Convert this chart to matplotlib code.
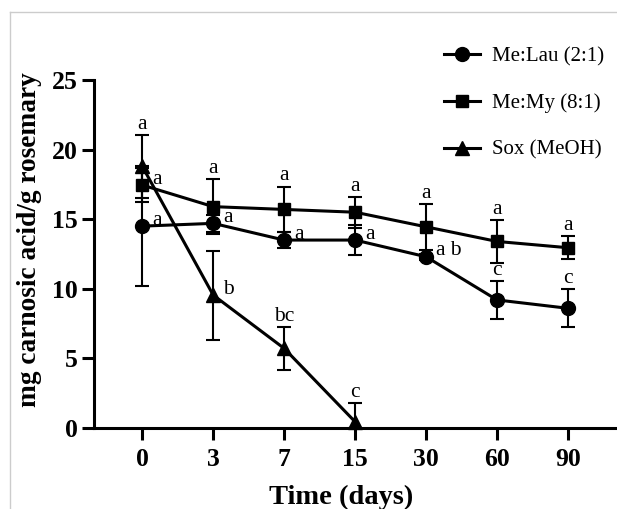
import matplotlib
matplotlib.use("Agg")
import matplotlib.pyplot as plt
from matplotlib.lines import Line2D

# storage time (days), plotted as evenly spaced categories
days = ["0", "3", "7", "15", "30", "60", "90"]

lau_mean = [14.5, 14.7, 13.5, 13.5, 12.3, 9.2, 8.6]
lau_sd = [4.3, 0.6, 0.55, 1.1, 0.2, 1.35, 1.37]
lau_letters = ["a", "a", "a", "a", "a b", "c", "c"]

my_mean = [17.45, 15.9, 15.7, 15.5, 14.45, 13.4, 12.95]
my_sd = [1.2, 1.95, 1.63, 1.1, 1.63, 1.52, 0.83]
my_letters = ["a", "a", "a", "a", "a", "a", "a"]

sox_mean = [18.8, 9.55, 5.72, 0.45]
sox_sd = [2.25, 3.2, 1.52, 1.32]
sox_letters = ["a", "b", "bc", "c"]

plt.rcParams['font.family'] = ['Liberation Serif', 'DejaVu Serif']

fig = plt.figure(figsize=(6.17, 5.09), dpi=100)
ax = fig.add_axes([0.1523, 0.159, 0.8477, 0.684])

x = list(range(len(days)))
common = dict(color='black', lw=2.2, elinewidth=1.5, capsize=5, capthick=1.5)
ax.errorbar(x, lau_mean, yerr=lau_sd, marker='o', ms=10, **common)
ax.errorbar(x, my_mean, yerr=my_sd, marker='s', ms=9, **common)
sox_low = [min(s, m) for s, m in zip(sox_sd, sox_mean)]
ax.errorbar(x[:len(sox_mean)], sox_mean, yerr=[sox_low, sox_sd], marker='^', ms=10,
            clip_on=False, **common)

# letters: "up" = above the upper cap, "right" = beside the marker
lau_side = ["right", "right", "right", "right", "right", "up", "up"]
my_side = ["right", "up", "up", "up", "up", "up", "up"]
sox_side = ["up", "right", "up", "up"]


def put_letters(means, sds, letters, sides):
    for i, (m, s, t, side) in enumerate(zip(means, sds, letters, sides)):
        if side == "up":
            ax.annotate(t, xy=(i, m + s), xytext=(0, 1), textcoords='offset points',
                        ha='center', va='bottom', fontsize=15.5)
        else:
            ax.annotate(t, xy=(i, m), xytext=(7, 1), textcoords='offset points',
                        ha='left', va='baseline', fontsize=15.5)


put_letters(lau_mean, lau_sd, lau_letters, lau_side)
put_letters(my_mean, my_sd, my_letters, my_side)
put_letters(sox_mean, sox_sd, sox_letters, sox_side)

ax.set_xlim(-0.68, 6.69)
ax.set_ylim(0, 25)
ax.set_xticks(x)
ax.set_xticklabels(days)
ax.set_yticks([0, 5, 10, 15, 20, 25])

for side in ['top', 'right']:
    ax.spines[side].set_visible(False)
for side in ['left', 'bottom']:
    ax.spines[side].set_linewidth(2.2)
ax.tick_params(axis='both', direction='out', width=2.2, length=8.6, labelsize=18.5)
ax.tick_params(axis='y', pad=3)
ax.tick_params(axis='x', pad=6)
for lab in ax.get_xticklabels() + ax.get_yticklabels():
    lab.set_fontweight('bold')

ax.set_xlabel('Time (days)', fontsize=20.5, fontweight='bold')
ax.xaxis.set_label_coords(0.472, -0.163)
ax.set_ylabel('mg carnosic acid/g rosemary', fontsize=19.7, fontweight='bold')
ax.yaxis.set_label_coords(-0.099, 0.54)

leg_handles = [Line2D([], [], color='black', lw=2.2, marker=mk, ms=ms)
               for mk, ms in [('o', 10), ('s', 9), ('^', 10)]]
ax.legend(leg_handles, ['Me:Lau (2:1)', 'Me:My (8:1)', 'Sox (MeOH)'],
          loc='upper left', bbox_to_anchor=(0.72, 0.908), bbox_transform=fig.transFigure,
          borderpad=0, borderaxespad=0, frameon=False, fontsize=15,
          handlelength=1.7, handletextpad=0.58, labelspacing=1.3)

# light frame at the left and top edge of the cropped figure
fig.add_artist(Line2D([0.016, 0.016], [0, 0.977], color='#cccccc', lw=1, transform=fig.transFigure))
fig.add_artist(Line2D([0.016, 1.0], [0.977, 0.977], color='#cccccc', lw=1, transform=fig.transFigure))

fig.savefig('out.png', dpi=100)
